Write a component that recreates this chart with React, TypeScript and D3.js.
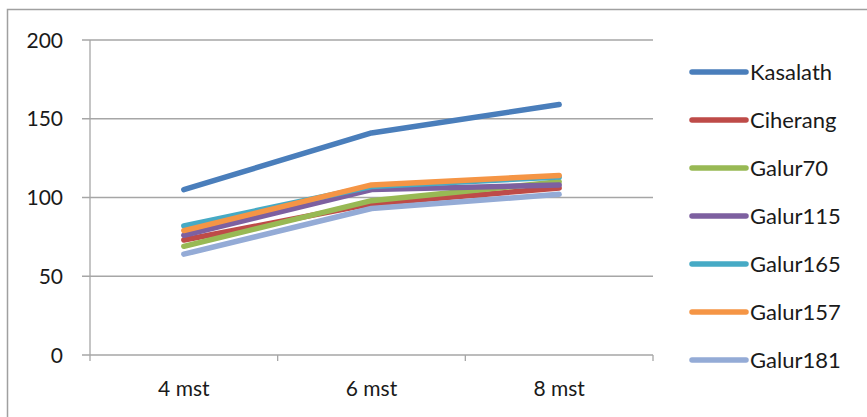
import React from "react";
import * as d3 from "d3";

const categories = ["4 mst", "6 mst", "8 mst"];
const seriesNames = ["Kasalath", "Ciherang", "Galur70", "Galur115", "Galur165", "Galur157", "Galur181"];
const kasalath = [105, 141, 159];
const ciherang = [73, 96, 106];
const galur70 = [69, 98, 110];
const galur115 = [76, 105, 108];
const galur165 = [82, 107, 113];
const galur157 = [79, 108, 114];
const galur181 = [64, 93, 102];
const seriesValues = [kasalath, ciherang, galur70, galur115, galur165, galur157, galur181];
const colors = ["#4a7ebb", "#be4b48", "#98b954", "#7d60a0", "#46aac5", "#f59545", "#94abd6"];
const yTicks = [0, 50, 100, 150, 200];

export default function App() {
  const W = 867, H = 417;
  const left = 90, right = 653, top = 40, bottom = 355;
  const x = d3.scaleBand<string>().domain(categories).range([left, right]);
  const y = d3.scaleLinear().domain([0, 200]).range([bottom, top]);
  const line = d3.line<number>()
    .x((_, i) => (x(categories[i]) as number) + x.bandwidth() / 2)
    .y((d) => y(d));
  const font = "Lato, 'Open Sans', 'Liberation Sans', sans-serif";
  const grid = "#a6a6a6";
  const fs = 21;
  return (
    <svg width={W} height={H} style={{ position: "absolute", left: 0, top: 0 }} fontFamily={font}>
      <rect x={0} y={0} width={W} height={H} fill="#fff" />
      <path d={`M7.5,${H} V9.5 H${W}`} fill="none" stroke="#a0a0a0" strokeWidth={1.5} />
      {yTicks.map((t) => (
        <g key={t}>
          <line x1={82} x2={right} y1={y(t)} y2={y(t)} stroke={grid} strokeWidth={1.3} />
          <text x={63} y={y(t)} dy="0.36em" textAnchor="end" fontSize={fs} fill="#1a1a1a">{t}</text>
        </g>
      ))}
      <line x1={left} x2={left} y1={top} y2={bottom} stroke={grid} strokeWidth={1.3} />
      {[0, 1, 2, 3].map((i) => {
        const xx = left + i * x.bandwidth();
        return <line key={i} x1={xx} x2={xx} y1={bottom} y2={bottom + 6} stroke={grid} strokeWidth={1.3} />;
      })}
      {categories.map((c) => (
        <text key={c} x={(x(c) as number) + x.bandwidth() / 2} y={396} textAnchor="middle" fontSize={fs} fill="#1a1a1a">{c}</text>
      ))}
      {seriesValues.map((vals, i) => (
        <path key={seriesNames[i]} d={line(vals) as string} fill="none" stroke={colors[i]} strokeWidth={5.5} strokeLinecap="round" strokeLinejoin="round" />
      ))}
      {seriesNames.map((n, i) => {
        const ly = 72 + i * 48;
        return (
          <g key={n}>
            <line x1={692} x2={746} y1={ly} y2={ly} stroke={colors[i]} strokeWidth={5.5} strokeLinecap="round" />
            <text x={750} y={ly} dy="0.36em" fontSize={22} fill="#1a1a1a">{n}</text>
          </g>
        );
      })}
    </svg>
  );
}
